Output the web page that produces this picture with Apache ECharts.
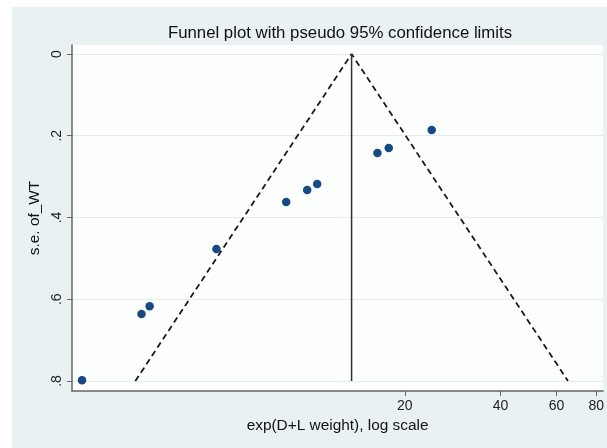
<!DOCTYPE html>
<html>
<head>
<meta charset="utf-8">
<script src="https://cdn.jsdelivr.net/npm/echarts@6/dist/echarts.min.js"></script>
<style>
    body { margin: 0; background: #ffffff; }
    #wrap { position: absolute; left: 12px; top: 7px; width: 595px; height: 441px; background: #e9f1f3; }
    #demo { width: 595px; height: 441px; }
</style>
</head>
<body>
<div id="wrap"><div id="demo"></div></div>
<script>
// studies: weight (log scale) and standard error
var studyWeight = [1.93, 2.97, 3.15, 5.11, 8.47, 9.86, 10.6, 16.4, 17.8, 24.3];
var studySE = [0.798, 0.636, 0.617, 0.477, 0.362, 0.333, 0.318, 0.242, 0.230, 0.186];

// pseudo 95% confidence limits and the pooled estimate
var limitX = [2.84, 13.6, 65.2];
var limitY = [0.8, 0, 0.8];
var pooledX = [13.6, 13.6];
var pooledY = [0, 0.8];

var xTicks = [20, 40, 60, 80];
var yTicks = [0, 0.2, 0.4, 0.6, 0.8];

function pairs(xs, ys) {
    var out = [];
    for (var i = 0; i < xs.length; i++) out.push([xs[i], ys[i]]);
    return out;
}

var myChart = echarts.init(document.getElementById('demo'));

var option = {
    animation: false,
    backgroundColor: 'transparent',
    textStyle: { fontFamily: 'Liberation Sans, Arial, sans-serif' },
    title: {
        text: 'Funnel plot with pseudo 95% confidence limits',
        left: 323,
        top: 13,
        textAlign: 'center',
        textStyle: { fontSize: 16.8, fontWeight: 'normal', color: '#111' }
    },
    grid: {
        left: 60,
        right: 0,
        top: 38,
        bottom: 57,
        show: true,
        backgroundColor: '#fdfefe',
        borderWidth: 0
    },
    xAxis: {
        type: 'log',
        logBase: 10,
        position: 'bottom',
        min: 1.795,
        max: 84.1,
        name: 'exp(D+L weight), log scale',
        nameLocation: 'middle',
        nameGap: 25,
        nameTextStyle: { fontSize: 15.4, color: '#111' },
        axisLine: { onZero: false, lineStyle: { color: '#666', width: 1.5 } },
        axisTick: { customValues: xTicks, length: 5, lineStyle: { color: '#666' } },
        axisLabel: { customValues: xTicks, fontSize: 14, color: '#222', margin: 8 },
        splitLine: { show: false },
        minorTick: { show: false }
    },
    yAxis: {
        type: 'value',
        inverse: true,
        min: -0.022,
        max: 0.8245,
        name: 's.e. of_WT',
        nameLocation: 'middle',
        nameGap: 28,
        nameTextStyle: { fontSize: 15.4, color: '#111' },
        axisLine: { show: true, onZero: false, lineStyle: { color: '#666', width: 1.5 } },
        axisTick: { show: true, customValues: yTicks, length: 5, lineStyle: { color: '#666' } },
        axisLabel: {
            customValues: yTicks,
            rotate: 90,
            fontSize: 14,
            color: '#222',
            margin: 8,
            formatter: function (v) {
                return v === 0 ? '0' : String(+v.toFixed(1)).replace(/^0/, '');
            }
        },
        splitLine: { show: true, lineStyle: { color: '#e2edf3', width: 1 } }
    },
    series: [
        {
            name: 'limits',
            type: 'line',
            data: pairs(limitX, limitY),
            symbol: 'none',
            lineStyle: { color: '#1a1a1a', width: 1.8, type: [6, 4] },
            z: 2
        },
        {
            name: 'pooled',
            type: 'line',
            data: pairs(pooledX, pooledY),
            symbol: 'none',
            lineStyle: { color: '#333', width: 1.5 },
            z: 2
        },
        {
            name: 'studies',
            type: 'scatter',
            data: pairs(studyWeight, studySE),
            symbolSize: 8.5,
            itemStyle: { color: '#174a84', opacity: 1 },
            z: 3
        }
    ]
};

myChart.setOption(option);
</script>
</body>
</html>
